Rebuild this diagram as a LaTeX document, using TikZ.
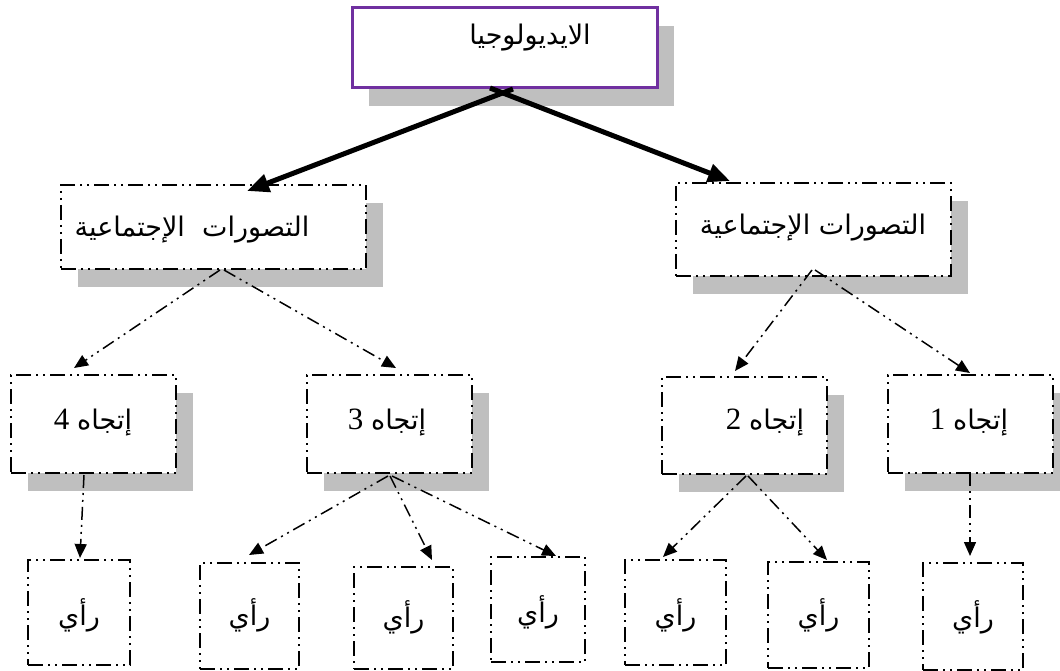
\documentclass[tikz,border=0pt]{standalone}
\usepackage{fontspec}
\setmainfont{Liberation Serif}
\newfontfamily\arabicfont[Script=Arabic]{DejaVu Sans}
\TeXXeTstate=1
\usetikzlibrary{arrows.meta,shadows}
\definecolor{boxpurple}{HTML}{7030A0}
\definecolor{shadowgray}{HTML}{BFBFBF}
\newcommand\artxt[1]{{\arabicfont\beginR #1\endR}}
\begin{document}
\begin{tikzpicture}[x=1pt,y=-1pt,
  shadowed/.style={drop shadow={shadow xshift=17pt,shadow yshift=-18pt,fill=shadowgray,opacity=1}},
  ddbox/.style={draw=black,line width=2pt,fill=white,dash pattern=on 15pt off 5pt on 2pt off 5pt on 2pt off 5pt,inner sep=0pt},
  topbox/.style={draw=boxpurple,line width=3pt,fill=white,inner sep=0pt},
  conn/.style={line width=1.5pt,dash pattern=on 13pt off 5pt on 2pt off 5pt on 2pt off 5pt,-{Triangle[length=14pt,width=12pt]}},
  boldarrow/.style={line width=5pt,-{Triangle[length=22pt,width=18pt]}},
  lbl/.style={inner sep=0pt,font=\fontsize{27}{30}\selectfont},
  numlbl/.style={inner sep=0pt,font=\fontsize{31}{33}\selectfont},
]
\useasboundingbox (0,0) rectangle (1060,671);

% top
\node[topbox,shadowed,minimum width=305pt,minimum height=80pt] (top) at (504.5,48) {};
\node[lbl] (ttop) at (530,38) {\artxt{الايديولوجيا}};

% level 2
\node[ddbox,shadowed,minimum width=305pt,minimum height=84pt] (l2a) at (213.5,227) {};
\node[lbl] (tl2a) at (192,230) {\artxt{التصورات\ \ الإجتماعية}};
\node[ddbox,shadowed,minimum width=275pt,minimum height=93pt] (l2b) at (813.5,229.5) {};
\node[lbl] (tl2b) at (813,228) {\artxt{التصورات الإجتماعية}};

% level 3
\node[ddbox,shadowed,minimum width=165pt,minimum height=98pt] (d4) at (93.5,424) {};
\node[numlbl] (td4) at (93,423) {4\ \artxt{\fontsize{27}{30}\selectfont إتجاه}};
\node[ddbox,shadowed,minimum width=165pt,minimum height=98pt] (d3) at (389.5,424) {};
\node[numlbl] (td3) at (387,423) {3\ \artxt{\fontsize{27}{30}\selectfont إتجاه}};
\node[ddbox,shadowed,minimum width=165pt,minimum height=97pt] (d2) at (744.5,425.5) {};
\node[numlbl] (td2) at (765,423) {2\ \artxt{\fontsize{27}{30}\selectfont إتجاه}};
\node[ddbox,shadowed,minimum width=165pt,minimum height=98pt] (d1) at (970.5,424) {};
\node[numlbl] (td1) at (969,423) {1\ \artxt{\fontsize{27}{30}\selectfont إتجاه}};

% level 4
\node[ddbox,minimum width=102pt,minimum height=105pt] (b1) at (79,612.5) {};
\node[ddbox,minimum width=99pt,minimum height=106pt] (b2) at (249.5,616) {};
\node[ddbox,minimum width=99pt,minimum height=102pt] (b3) at (403.5,618) {};
\node[ddbox,minimum width=94pt,minimum height=105pt] (b4) at (538,609.5) {};
\node[ddbox,minimum width=101pt,minimum height=105pt] (b5) at (675.5,612.5) {};
\node[ddbox,minimum width=101pt,minimum height=106pt] (b6) at (818.5,615) {};
\node[ddbox,minimum width=100pt,minimum height=107pt] (b7) at (973,616.5) {};
\foreach \b/\yy in {b1/615,b2/615,b3/617,b4/612,b5/615,b6/615,b7/617}{
  \node[lbl] (t\b) at (\b.center |- 0,\yy) {\artxt{رأي}};
}

% connector points
\coordinate (s0a) at (513,89);  \coordinate (e0a) at (247,191);
\coordinate (s0b) at (490,88);  \coordinate (e0b) at (730,181);
\coordinate (s1a) at (220,270); \coordinate (e1a) at (74,368);
\coordinate (s1b) at (224,270); \coordinate (e1b) at (396,368);
\coordinate (s2a) at (812,270); \coordinate (e2a) at (735,371);
\coordinate (s2b) at (815,270); \coordinate (e2b) at (970,373);
\coordinate (s3a) at (84,475);  \coordinate (e3a) at (80,558);
\coordinate (s4a) at (388,476); \coordinate (e4a) at (249,555);
\coordinate (s4b) at (390,476); \coordinate (e4b) at (432,560);
\coordinate (s4c) at (392,476); \coordinate (e4c) at (556,556);
\coordinate (s5a) at (746,476); \coordinate (e5a) at (663,557);
\coordinate (s5b) at (748,476); \coordinate (e5b) at (827,560);
\coordinate (s6a) at (970,473); \coordinate (e6a) at (970,556);

\draw[boldarrow] (s0a) -- (e0a);
\draw[boldarrow] (s0b) -- (e0b);
\foreach \c in {1a,1b,2a,2b,3a,4a,4b,4c,5a,5b,6a}{
  \draw[conn] (s\c) -- (e\c);
}
\end{tikzpicture}
\end{document}
